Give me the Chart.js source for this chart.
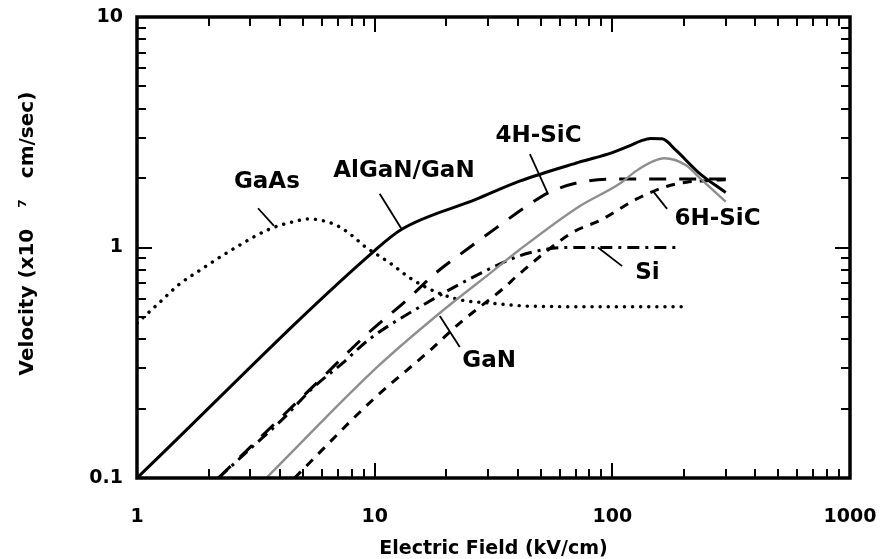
<!DOCTYPE html>
<html><head><meta charset="utf-8">
<script src="https://cdn.jsdelivr.net/npm/chart.js@4.4.1/dist/chart.umd.min.js"></script>
<style>html,body{margin:0;padding:0;background:#fff;}</style>
</head><body>
<canvas id="c" width="880" height="559"></canvas>
<script>
// ---- tick values ----
const xMajorTicks = [1, 10, 100, 1000];
const xMinorTicks = [2,3,4,5,6,7,8,9,20,30,40,50,60,70,80,90,200,300,400,500,600,700,800,900];
const yMajorTicks = [0.1, 1, 10];
const yMinorTicks = [0.2,0.3,0.4,0.5,0.6,0.7,0.8,0.9,2,3,4,5,6,7,8,9];

// ---- series (Electric field kV/cm, velocity x10^7 cm/s) ----
const alganField    = [1, 10, 13, 26.8, 40.7, 72, 100, 118, 132, 145, 162, 186, 230, 300];
const alganVelocity = [0.1, 0.97, 1.2, 1.62, 1.94, 2.34, 2.58, 2.76, 2.9, 2.97, 2.96, 2.63, 2.12, 1.73];

const gaasField    = [1, 1.25, 1.5, 1.85, 2.6, 3.6, 4.5, 5.3, 6, 7, 8, 9.2, 10.1, 11.9, 14, 18.2, 23.4, 29.5, 46, 100, 210];
const gaasVelocity = [0.47, 0.58, 0.69, 0.80, 1.0, 1.2, 1.29, 1.33, 1.31, 1.24, 1.13, 1.0, 0.94, 0.84, 0.74, 0.64, 0.59, 0.576, 0.556, 0.553, 0.553];

const sic4hField    = [2.2, 5.5, 9.5, 13.6, 18.2, 24.4, 32.6, 43.6, 54, 70, 100, 300];
const sic4hVelocity = [0.1, 0.249, 0.43, 0.59, 0.78, 0.98, 1.22, 1.51, 1.73, 1.90, 1.98, 1.98];

const siField    = [2.2, 3.07, 4.1, 5.5, 7.35, 9.5, 16.6, 24.8, 40.7, 52, 65, 100, 195];
const siVelocity = [0.1, 0.137, 0.18, 0.246, 0.316, 0.40, 0.576, 0.726, 0.92, 0.98, 1.0, 1.0, 1.0];

const sic6hField    = [4.6, 9.8, 17.2, 22.8, 34.5, 40.7, 67.8, 90, 126, 169, 205, 250, 300];
const sic6hVelocity = [0.1, 0.218, 0.36, 0.47, 0.66, 0.77, 1.16, 1.32, 1.62, 1.84, 1.92, 1.95, 1.97];

const ganField    = [3.5, 10.5, 18.8, 31.4, 40.8, 72, 108, 126, 149, 165, 205, 230, 300];
const ganVelocity = [0.1, 0.31, 0.52, 0.79, 0.98, 1.5, 1.9, 2.15, 2.37, 2.44, 2.27, 2.03, 1.58];

const seriesNames = ['GaN', 'GaAs', 'Si', '6H-SiC', '4H-SiC', 'AlGaN/GaN'];

const pts = (xs, ys) => xs.map((v, i) => ({x: v, y: ys[i]}));

const FONT = 'DejaVu Sans';

const datasets = [
  {label: seriesNames[0], data: pts(ganField, ganVelocity), borderColor: '#8e8e8e', borderWidth: 2.4, borderDash: []},
  {label: seriesNames[1], data: pts(gaasField, gaasVelocity), borderColor: '#000', borderWidth: 3.4, borderDash: [0.1, 8], borderCapStyle: 'round'},
  {label: seriesNames[2], data: pts(siField, siVelocity), borderColor: '#000', borderWidth: 3, borderDash: [12, 6, 3, 6]},
  {label: seriesNames[3], data: pts(sic6hField, sic6hVelocity), borderColor: '#000', borderWidth: 3, borderDash: [9, 8]},
  {label: seriesNames[4], data: pts(sic4hField, sic4hVelocity), borderColor: '#000', borderWidth: 3, borderDash: [17, 13]},
  {label: seriesNames[5], data: pts(alganField, alganVelocity), borderColor: '#000', borderWidth: 3, borderDash: []}
].map(d => Object.assign({pointRadius: 0, fill: false, cubicInterpolationMode: 'monotone'}, d));

// ---- annotation labels (data coordinates) ----
const notes = [
  {text: 'GaAs',      at: [3.52, 1.92],  line: [[3.23, 1.48], [3.77, 1.24]]},
  {text: 'AlGaN/GaN', at: [13.28, 2.15], line: [[10.5, 1.71], [13.0, 1.20]]},
  {text: '4H-SiC',    at: [48.9, 3.06],  line: [[45, 2.54], [53.6, 1.71]]},
  {text: '6H-SiC',    at: [277, 1.33],   line: [[148, 1.76], [170, 1.47]]},
  {text: 'Si',        at: [140.5, 0.775],line: [[87, 1.0], [110, 0.83]]},
  {text: 'GaN',       at: [30.3, 0.322], line: [[18.8, 0.504], [22.8, 0.37]]}
];

const framePlugin = {
  id: 'frameTicks',
  afterDatasetsDraw(chart) {
    const {ctx, chartArea: {left, right, top, bottom}, scales: {x, y}} = chart;
    ctx.save();
    ctx.strokeStyle = '#000';
    ctx.lineWidth = 2;
    ctx.setLineDash([]);
    const vt = (v, len) => {
      const p = Math.round(x.getPixelForValue(v));
      ctx.beginPath();
      ctx.moveTo(p, bottom); ctx.lineTo(p, bottom - len);
      ctx.moveTo(p, top); ctx.lineTo(p, top + len);
      ctx.stroke();
    };
    const ht = (v, len) => {
      const p = Math.round(y.getPixelForValue(v));
      ctx.beginPath();
      ctx.moveTo(left, p); ctx.lineTo(left + len, p);
      ctx.moveTo(right, p); ctx.lineTo(right - len, p);
      ctx.stroke();
    };
    xMinorTicks.forEach(v => vt(v, 9));
    xMajorTicks.forEach(v => vt(v, 15));
    yMinorTicks.forEach(v => ht(v, 9));
    yMajorTicks.forEach(v => ht(v, 15));
    ctx.lineWidth = 3.5;
    ctx.strokeRect(left, top, right - left, bottom - top);

    // annotations
    ctx.lineWidth = 1.8;
    ctx.fillStyle = '#000';
    ctx.font = 'bold 23px "' + FONT + '"';
    ctx.textAlign = 'center';
    ctx.textBaseline = 'middle';
    notes.forEach(n => {
      const a = n.line[0], b = n.line[1];
      ctx.beginPath();
      ctx.moveTo(x.getPixelForValue(a[0]), y.getPixelForValue(a[1]));
      ctx.lineTo(x.getPixelForValue(b[0]), y.getPixelForValue(b[1]));
      ctx.stroke();
      ctx.fillText(n.text, x.getPixelForValue(n.at[0]), y.getPixelForValue(n.at[1]));
    });
    ctx.restore();
  }
};

const tickFont = {family: FONT, weight: 'bold', size: 19};

new Chart(document.getElementById('c').getContext('2d'), {
  type: 'line',
  data: {datasets},
  options: {
    responsive: false,
    animation: false,
    devicePixelRatio: 1,
    layout: {padding: {left: 0, right: 30, top: 17, bottom: 0}},
    plugins: {legend: {display: false}, tooltip: {enabled: false}},
    scales: {
      x: {
        type: 'logarithmic', min: 1, max: 1000,
        afterBuildTicks: s => { s.ticks = xMajorTicks.map(v => ({value: v})); },
        afterFit: s => { s.height = 81; s.paddingLeft = 0; s.paddingRight = 0; s.paddingTop = 0; s.paddingBottom = 0; },
        grid: {display: false, drawTicks: false},
        border: {display: false},
        ticks: {autoSkip: false, maxRotation: 0, padding: 28, color: '#000', font: tickFont,
                callback: v => String(v)},
        title: {display: true, text: 'Electric Field (kV/cm)', color: '#000',
                font: {family: FONT, weight: 'bold', size: 19, lineHeight: 1},
                padding: {top: 0, bottom: 0}}
      },
      y: {
        type: 'logarithmic', min: 0.1, max: 10,
        afterBuildTicks: s => { s.ticks = yMajorTicks.map(v => ({value: v})); },
        afterFit: s => { s.width = 137; s.paddingLeft = 0; s.paddingRight = 0; s.paddingTop = 0; s.paddingBottom = 0; },
        grid: {display: false, drawTicks: false},
        border: {display: false},
        ticks: {autoSkip: false, padding: 14, color: '#000', font: tickFont,
                callback: v => String(v)},
        title: {display: true, text: '    Velocity (x10   \u2077   cm/sec)', color: '#000',
                font: {family: FONT, weight: 'bold', size: 20, lineHeight: 1},
                padding: {top: 18, bottom: 0}}
      }
    }
  },
  plugins: [framePlugin]
});
</script>
</body></html>
